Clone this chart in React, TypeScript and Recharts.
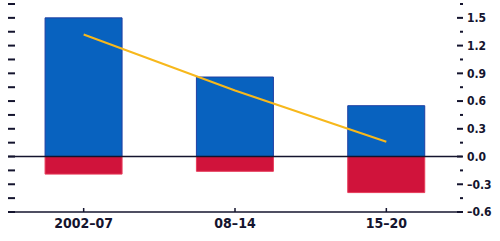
import { Bar, ComposedChart, Line, ReferenceLine, XAxis, YAxis } from "recharts";

const periods = ["2002–07", "08–14", "15–20"];
const positive = [1.5, 0.86, 0.55];
const negative = [-0.19, -0.16, -0.39];
const trend = [1.32, 0.715, 0.16];
const yTicks = [-0.6, -0.45, -0.3, -0.15, 0, 0.15, 0.3, 0.45, 0.6, 0.75, 0.9, 1.05, 1.2, 1.35, 1.5, 1.65];

const data = periods.map((p, i) => ({
  period: p,
  pos: positive[i],
  neg: negative[i],
  trend: trend[i],
}));

const font = "'Liberation Sans Narrow', 'Arial Narrow', 'DejaVu Sans Condensed', sans-serif";
const ink = "#14142e";

const isMajor = (v: number) => Math.round(v * 100) % 30 === 0;
const fmt = (v: number) => (v < 0 ? "\u2013" + Math.abs(v).toFixed(1) : v.toFixed(1));

function RightTick({ x, y, payload }: any) {
  const major = isMajor(payload.value);
  return (
    <g>
      <line x1={major ? x - 5 : x - 2} x2={x + 1} y1={y} y2={y} stroke={ink} strokeWidth={2} />
      {major && (
        <text x={x + 5} y={y} dy="0.36em" fontFamily={font} fontSize={12} fontWeight={700} fill={ink}>
          {fmt(payload.value)}
        </text>
      )}
    </g>
  );
}

function LeftTick({ x, y }: any) {
  return <line x1={x} x2={x + 7} y1={y} y2={y} stroke={ink} strokeWidth={2} />;
}

function BottomTick({ x, y, payload }: any) {
  return (
    <g>
      <line x1={x} x2={x} y1={y - 4} y2={y} stroke={ink} strokeWidth={1.5} />
      <text x={x} y={y + 16} textAnchor="middle" fontFamily={font} fontSize={14} fontWeight={700} fill={ink}>
        {payload.value}
      </text>
    </g>
  );
}

export default function App() {
  return (
    <div style={{ position: "absolute", left: 0, top: 0, width: 500, height: 241, background: "#fff" }}>
      <ComposedChart
        width={500}
        height={241}
        data={data}
        stackOffset="sign"
        barCategoryGap="24.5%"
        margin={{ top: 4, right: 0, left: 7, bottom: 0 }}
      >
        <XAxis
          dataKey="period"
          height={29}
          tickLine={false}
          tickSize={0}
          tickMargin={0}
          axisLine={{ stroke: ink, strokeWidth: 1.5 }}
          tick={<BottomTick />}
          interval={0}
        />
        <YAxis
          yAxisId="right"
          orientation="right"
          width={38}
          domain={[-0.6, 1.65]}
          ticks={yTicks}
          allowDataOverflow
          axisLine={false}
          tickLine={false}
          tickSize={0}
          tickMargin={0}
          interval={0}
          tick={<RightTick />}
        />
        <YAxis
          yAxisId="left"
          orientation="left"
          width={1}
          domain={[-0.6, 1.65]}
          ticks={yTicks}
          allowDataOverflow
          axisLine={false}
          tickLine={false}
          tickSize={0}
          tickMargin={0}
          interval={0}
          tick={<LeftTick />}
        />
        <ReferenceLine yAxisId="right" y={0} stroke={ink} strokeWidth={1.5} />
        <Bar yAxisId="right" dataKey="pos" stackId="a" fill="#0862bf" stroke="#1f3fa3" strokeWidth={1} isAnimationActive={false} />
        <Bar yAxisId="right" dataKey="neg" stackId="a" fill="#d0133b" stroke="#e63c5a" strokeWidth={1} isAnimationActive={false} />
        <Line
          yAxisId="right"
          dataKey="trend"
          type="linear"
          stroke="#f7b81c"
          strokeWidth={2}
          dot={false}
          activeDot={false}
          isAnimationActive={false}
        />
      </ComposedChart>
    </div>
  );
}
